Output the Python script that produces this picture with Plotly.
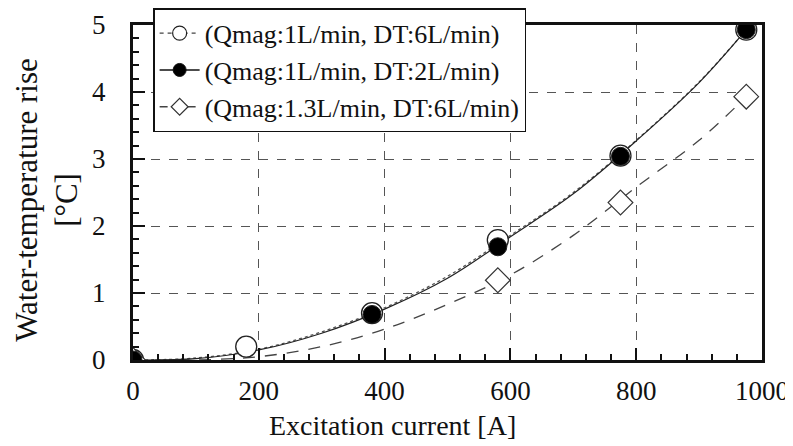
import plotly.graph_objects as go

# measured points
current_a = [0, 180, 380, 580, 775, 975]
rise_q1_dt6 = [0, 0.20, 0.70, 1.79, 3.05, 4.93]
current_b = [0, 380, 580, 775, 975]
rise_q1_dt2 = [0, 0.68, 1.69, 3.04, 4.93]
current_c = [0, 580, 775, 975]
rise_q13_dt6 = [0, 1.19, 2.35, 3.93]

# fitted curves
fit_x = [0, 100, 200, 300, 400, 500, 600, 700, 800, 900, 975]
fit_q1_dt6 = [0, 0.03, 0.16, 0.42, 0.78, 1.25, 1.86, 2.50, 3.28, 4.15, 4.93]
fit_q1_dt2 = [0, 0.02, 0.15, 0.40, 0.76, 1.22, 1.84, 2.48, 3.27, 4.14, 4.93]
fit_q13_dt6 = [0, 0.0, 0.05, 0.20, 0.46, 0.83, 1.27, 1.86, 2.58, 3.28, 3.93]

names = ["(Qmag:1L/min, DT:6L/min)", "(Qmag:1L/min, DT:2L/min)", "(Qmag:1.3L/min, DT:6L/min)"]
x_ticks = [0, 200, 400, 600, 800, 1000]
y_ticks = [0, 1, 2, 3, 4, 5]

FONT = "Liberation Serif, Times New Roman, serif"
INK = "#111111"

fig = go.Figure()

# fitted lines
fig.add_trace(go.Scatter(x=fit_x, y=fit_q13_dt6, mode="lines", line=dict(color="#444", width=1.3, dash="12px,10px", shape="spline"), showlegend=False))
fig.add_trace(go.Scatter(x=fit_x, y=fit_q1_dt6, mode="lines", line=dict(color="#555", width=1.3, dash="3px,3px", shape="spline"), showlegend=False))
fig.add_trace(go.Scatter(x=fit_x, y=fit_q1_dt2, mode="lines", line=dict(color="#222", width=1.2, shape="spline"), showlegend=False))

# markers
fig.add_trace(go.Scatter(x=current_a, y=rise_q1_dt6, mode="markers", showlegend=False,
                         marker=dict(symbol="circle", size=21, color="white", line=dict(color="#222", width=1.3))))
fig.add_trace(go.Scatter(x=current_c, y=rise_q13_dt6, mode="markers", showlegend=False,
                         marker=dict(symbol="diamond", size=19, color="white", line=dict(color="#333", width=1.2))))
fig.add_trace(go.Scatter(x=current_b, y=rise_q1_dt2, mode="markers", showlegend=False,
                         marker=dict(symbol="circle", size=18, color="black", line=dict(color="#222", width=1))))

# legend entries
fig.add_trace(go.Scatter(x=[None], y=[None], mode="lines+markers", name=names[0],
                         line=dict(color="#444", width=1.3, dash="4px,4px"),
                         marker=dict(symbol="circle", size=14, color="white", line=dict(color="#222", width=1.2))))
fig.add_trace(go.Scatter(x=[None], y=[None], mode="lines+markers", name=names[1],
                         line=dict(color="#111", width=1.5),
                         marker=dict(symbol="circle", size=13, color="black", line=dict(color="#111", width=1))))
fig.add_trace(go.Scatter(x=[None], y=[None], mode="lines+markers", name=names[2],
                         line=dict(color="#444", width=1.3, dash="8px,6px"),
                         marker=dict(symbol="diamond", size=13, color="white", line=dict(color="#333", width=1.2))))

axis_common = dict(showline=True, linecolor=INK, linewidth=3, mirror=True,
                   showgrid=True, gridcolor="#555", gridwidth=1, griddash="dash",
                   zeroline=False, ticks="inside", ticklen=12, tickwidth=2, tickcolor=INK,
                   tickfont=dict(family=FONT, size=27, color=INK))

over_common = dict(ticks="outside", ticklen=11, tickwidth=2, tickcolor=INK,
                   showticklabels=False, showgrid=False, showline=False, zeroline=False)

# page body has an 8px margin, so the figure is sized/positioned to compensate
fig.update_layout(
    width=785, height=438,
    margin=dict(l=125, r=31, t=17, b=86, autoexpand=False),
    paper_bgcolor="white", plot_bgcolor="white",
    font=dict(family=FONT, color=INK),
    xaxis=dict(range=[0, 1000], tickvals=x_ticks, ticktext=[str(v) for v in x_ticks],
               ticklabelstandoff=5,
               minor=dict(ticks="inside", ticklen=6, tickwidth=2, tickcolor=INK, dtick=40, tick0=0, showgrid=False),
               **axis_common),
    yaxis=dict(range=[0, 5], tickvals=y_ticks, ticktext=[str(v) for v in y_ticks],
               ticklabelstandoff=19,
               minor=dict(ticks="inside", ticklen=6, tickwidth=2, tickcolor=INK, dtick=0.2, tick0=0, showgrid=False),
               **axis_common),
    xaxis2=dict(overlaying="x", side="bottom", range=[0, 1000], tickvals=x_ticks, **over_common),
    yaxis2=dict(overlaying="y", side="left", range=[0, 5], tickvals=y_ticks, **over_common),
    legend=dict(x=0.032, y=1.05, xanchor="left", yanchor="top",
                bgcolor="white", bordercolor=INK, borderwidth=1.5,
                font=dict(family=FONT, size=26, color=INK), tracegroupgap=0,
                itemwidth=40),
    annotations=[
        dict(text="Excitation current [A]", xref="paper", yref="paper", x=0.413, y=-0.197,
             xanchor="center", yanchor="middle", showarrow=False,
             font=dict(family=FONT, size=28, color=INK)),
        dict(text="Water-temperature rise<br>[°C]", xref="paper", yref="paper", x=-0.137, y=0.478,
             xanchor="center", yanchor="middle", showarrow=False, textangle=-90,
             font=dict(family=FONT, size=31, color=INK)),
    ],
)

fig.write_html("out.html")
